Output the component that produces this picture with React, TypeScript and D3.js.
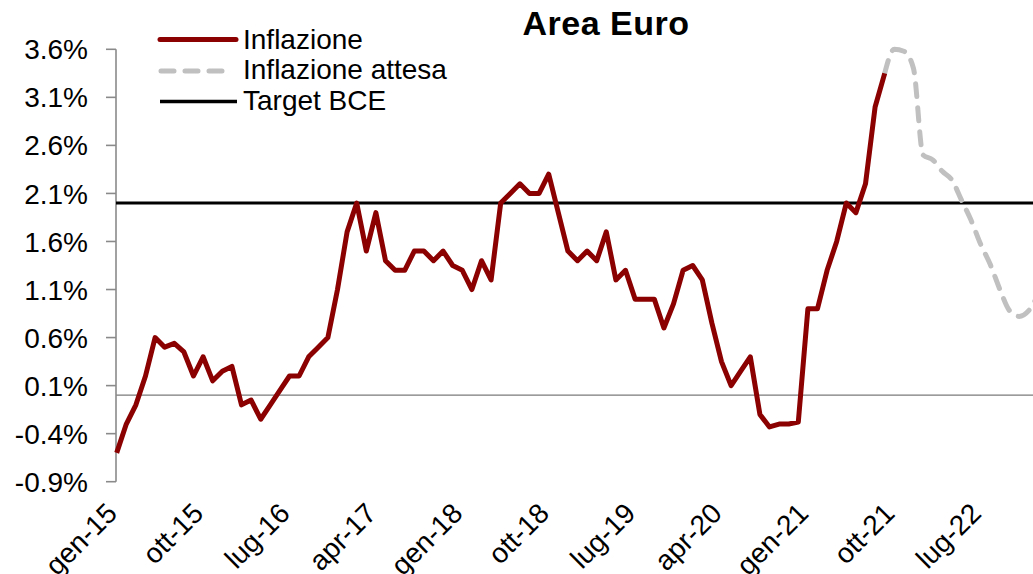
import React from "react";
import * as d3 from "d3";

const title = "Area Euro";
const seriesNames = ["Inflazione", "Inflazione attesa", "Target BCE"];

// monthly, starting gen-15 (index 0)
const inflazione = [
  // 2015
  -0.6, -0.3, -0.1, 0.2, 0.6, 0.5, 0.54, 0.45, 0.2, 0.4, 0.15, 0.25,
  // 2016
  0.3, -0.1, -0.05, -0.25, -0.1, 0.05, 0.2, 0.2, 0.4, 0.5, 0.6, 1.1,
  // 2017
  1.7, 2.0, 1.5, 1.9, 1.4, 1.3, 1.3, 1.5, 1.5, 1.4, 1.5, 1.35,
  // 2018
  1.3, 1.1, 1.4, 1.2, 2.0, 2.1, 2.2, 2.1, 2.1, 2.3, 1.9, 1.5,
  // 2019
  1.4, 1.5, 1.4, 1.7, 1.2, 1.3, 1.0, 1.0, 1.0, 0.7, 0.95, 1.3,
  // 2020
  1.35, 1.2, 0.75, 0.35, 0.1, 0.25, 0.4, -0.2, -0.33, -0.3, -0.3, -0.28,
  // 2021
  0.9, 0.9, 1.3, 1.6, 2.0, 1.9, 2.2, 3.0, 3.35,
];

// expected inflation, starting at index 80 (set-21)
const attesaStart = 80;
const inflazioneAttesa = [
  3.35, 3.6, 3.58, 3.4, 2.5, 2.45, 2.33, 2.24, 2.03, 1.82, 1.57, 1.36, 1.1,
  0.88, 0.82, 0.88, 1.05,
];

const targetBCE = 2.0;

const yTicks = [-0.9, -0.4, 0.1, 0.6, 1.1, 1.6, 2.1, 2.6, 3.1, 3.6];
const xTickIdx = [0, 9, 18, 27, 36, 45, 54, 63, 72, 81, 90];
const xTickLabels = [
  "gen-15", "ott-15", "lug-16", "apr-17", "gen-18", "ott-18",
  "lug-19", "apr-20", "gen-21", "ott-21", "lug-22",
];

const W = 1033;
const H = 574;
const FONT = "'Liberation Sans', Arial, sans-serif";

export default function App() {
  const x = d3.scaleLinear().domain([0, 95]).range([116.7, 116.7 + 95 * 9.6]);
  const y = d3.scaleLinear().domain([-0.9, 3.6]).range([481.7, 49.3]);

  const redLine = d3
    .line<number>()
    .x((_, i) => x(i))
    .y((d) => y(d))(inflazione);

  const dashLine = d3
    .line<number>()
    .x((_, i) => x(i + attesaStart))
    .y((d) => y(d))
    .curve(d3.curveMonotoneX)(inflazioneAttesa);

  const axisX = 116;

  return (
    <svg
      width={W}
      height={H}
      style={{ position: "absolute", left: 0, top: 0, background: "#fff" }}
      fontFamily={FONT}
    >
      <rect x={0} y={0} width={W} height={H} fill="#fff" />
      {/* title */}
      <text
        x={606}
        y={35}
        textAnchor="middle"
        fontSize={34}
        fontWeight="bold"
        letterSpacing={0.5}
        fill="#000"
      >
        {title}
      </text>

      {/* zero line (category axis) */}
      <line x1={axisX} x2={W} y1={y(0)} y2={y(0)} stroke="#7a7a7a" strokeWidth={1.3} />

      {/* y axis */}
      <line x1={axisX} x2={axisX} y1={y(3.6)} y2={y(-0.9)} stroke="#8a8a8a" strokeWidth={1.6} />
      {yTicks.map((t) => (
        <g key={t}>
          <line x1={106} x2={axisX} y1={y(t)} y2={y(t)} stroke="#8a8a8a" strokeWidth={1.6} />
          <text
            x={88}
            y={y(t)}
            dy="0.36em"
            textAnchor="end"
            fontSize={28}
            fill="#000"
          >
            {t.toFixed(1) + "%"}
          </text>
        </g>
      ))}

      {/* x labels */}
      {xTickIdx.map((idx, k) => (
        <text
          key={idx}
          transform={`translate(${x(idx) + 2},515) rotate(-45)`}
          textAnchor="end"
          fontSize={28}
          fill="#000"
        >
          {xTickLabels[k]}
        </text>
      ))}

      {/* target BCE */}
      <line
        x1={axisX}
        x2={W}
        y1={y(targetBCE)}
        y2={y(targetBCE)}
        stroke="#000"
        strokeWidth={3}
      />

      {/* expected */}
      <path
        d={dashLine || ""}
        fill="none"
        stroke="#c0c0c0"
        strokeWidth={5}
        strokeDasharray="13 11"
        strokeLinecap="round"
      />

      {/* actual */}
      <path
        d={redLine || ""}
        fill="none"
        stroke="#8b0000"
        strokeWidth={5}
        strokeLinejoin="round"
      />

      {/* legend */}
      <line x1={160} x2={236} y1={39.5} y2={39.5} stroke="#8b0000" strokeWidth={5} strokeLinecap="round" />
      <text x={243} y={49} fontSize={28} fill="#000">{seriesNames[0]}</text>
      <line
        x1={161}
        x2={229}
        y1={71}
        y2={71}
        stroke="#c0c0c0"
        strokeWidth={5}
        strokeDasharray="13 11"
        strokeLinecap="round"
      />
      <text x={243} y={79} fontSize={28} fill="#000">{seriesNames[1]}</text>
      <line x1={160} x2={237} y1={101.5} y2={101.5} stroke="#000" strokeWidth={3.5} />
      <text x={243} y={110} fontSize={28} fill="#000">{seriesNames[2]}</text>
    </svg>
  );
}
